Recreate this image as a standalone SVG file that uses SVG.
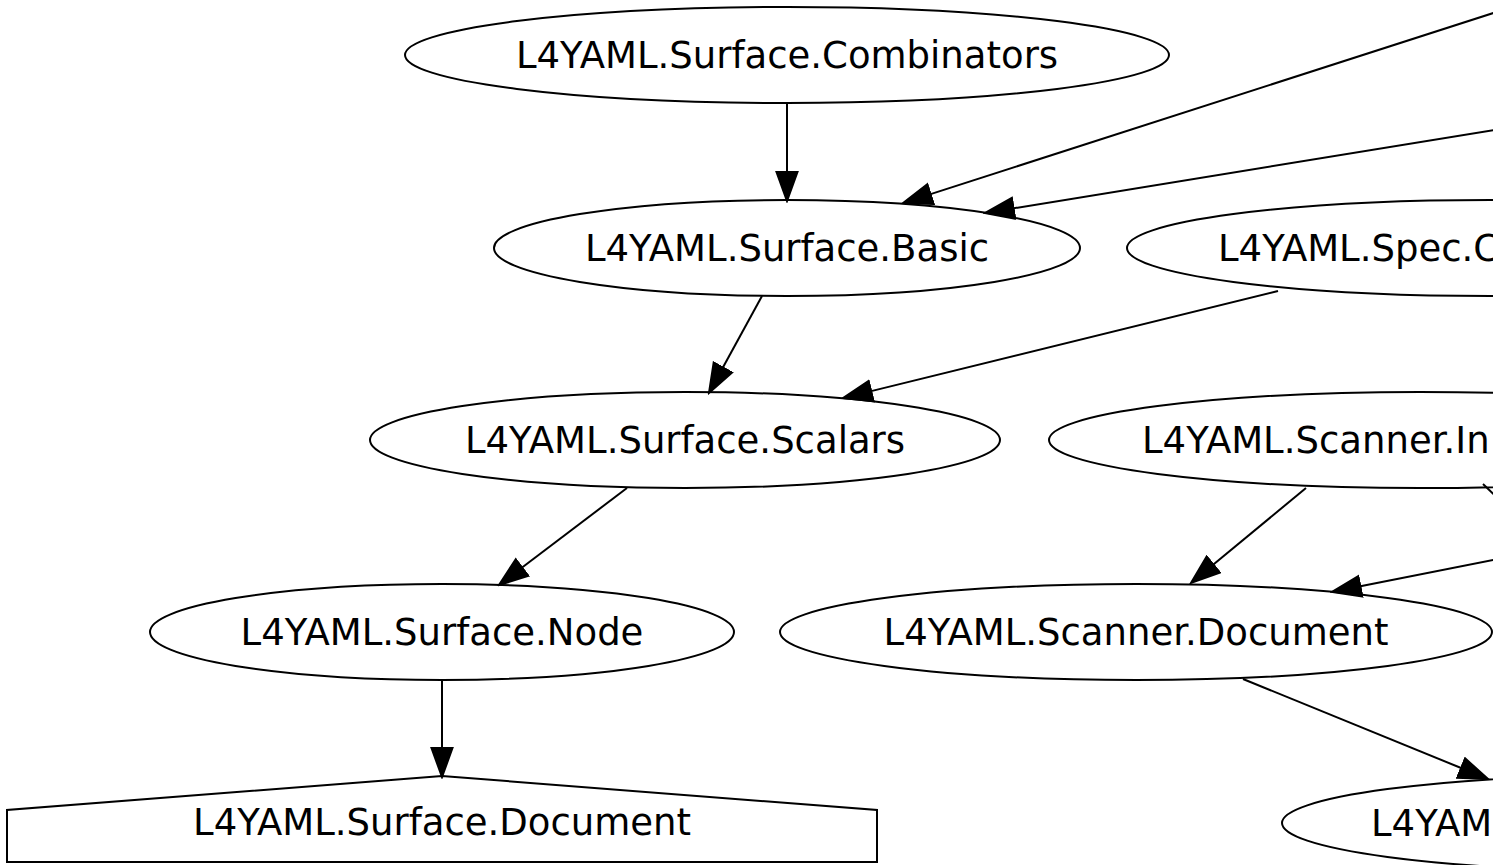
<svg xmlns="http://www.w3.org/2000/svg" width="1493" height="865" viewBox="0 0 1493 865">
  <style>
    .node ellipse, .node polygon { fill: none; stroke: #000; stroke-width: 2; }
    .node text { font-family: "DejaVu Sans", sans-serif; font-size: 37px; fill: #000; }
    .edge { fill: none; stroke: #000; stroke-width: 2; marker-end: url(#arrow); }
  </style>
  <defs>
    <marker id="arrow" markerUnits="userSpaceOnUse" viewBox="-1 -12 32 24" refX="0" refY="0" markerWidth="32" markerHeight="24" orient="auto">
      <path d="M0,-10.5 L29,0 L0,10.5 z" fill="#000" stroke="#000" stroke-width="2"/>
    </marker>
  </defs>
  <rect width="1493" height="865" fill="#fff"/>

  <g id="n-surface-combinators" class="node">
    <ellipse cx="787" cy="55" rx="382" ry="48"/>
    <text x="787" y="68" text-anchor="middle">L4YAML.Surface.Combinators</text>
  </g>
  <g id="n-surface-basic" class="node">
    <ellipse cx="787" cy="248" rx="293" ry="48"/>
    <text x="787" y="261" text-anchor="middle">L4YAML.Surface.Basic</text>
  </g>
  <g id="n-spec-c" class="node">
    <ellipse cx="1490" cy="248" rx="363" ry="48"/>
    <text x="1218" y="261">L4YAML.Spec.C</text>
  </g>
  <g id="n-surface-scalars" class="node">
    <ellipse cx="685" cy="440" rx="315" ry="48"/>
    <text x="685" y="453" text-anchor="middle">L4YAML.Surface.Scalars</text>
  </g>
  <g id="n-scanner-in" class="node">
    <ellipse cx="1420" cy="440" rx="371" ry="48"/>
    <text x="1142" y="453">L4YAML.Scanner.In</text>
  </g>
  <g id="n-surface-node" class="node">
    <ellipse cx="442" cy="632" rx="292" ry="48"/>
    <text x="442" y="645" text-anchor="middle">L4YAML.Surface.Node</text>
  </g>
  <g id="n-scanner-document" class="node">
    <ellipse cx="1136" cy="632" rx="356" ry="48"/>
    <text x="1136" y="645" text-anchor="middle">L4YAML.Scanner.Document</text>
  </g>
  <g id="n-surface-document" class="node">
    <polygon points="877,862 7,862 7,810 442,776 877,810"/>
    <text x="442" y="835" text-anchor="middle">L4YAML.Surface.Document</text>
  </g>
  <g id="n-yam" class="node">
    <ellipse cx="1642" cy="823" rx="360" ry="48"/>
    <text x="1371" y="836">L4YAM</text>
  </g>

  <g id="edges">
    <path class="edge" d="M787,103 L787,172"/>
    <path class="edge" d="M1540,-2 L930.6,194.1"/>
    <path class="edge" d="M1540,122.5 L1013.6,208.3"/>
    <path class="edge" d="M762,296 L722.9,367.5"/>
    <path class="edge" d="M1278,291 L871.2,391.1"/>
    <path class="edge" d="M627,488 L522.1,567.5"/>
    <path class="edge" d="M1306,488 L1213.4,564.5"/>
    <path class="edge" d="M1540,550.6 L1360.4,586.3"/>
    <path d="M1483,484 L1530,529" fill="none" stroke="#000" stroke-width="2"/>
    <path class="edge" d="M1243,679 L1461.1,768"/>
    <path class="edge" d="M442,680 L442,748"/>
  </g>
</svg>
